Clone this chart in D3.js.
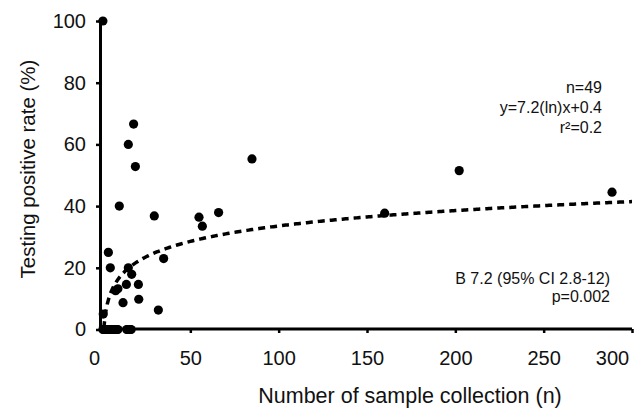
<!DOCTYPE html>
<html>
<head>
<meta charset="utf-8">
<script src="https://cdn.jsdelivr.net/npm/d3@7"></script>
<style>
  body { margin: 0; background: #fff; }
  text { font-family: "Liberation Sans", Arial, sans-serif; fill: #111; }
</style>
</head>
<body>
<script>
// sample counts (x) and positive rate % (y)
const sampleN = [0.5, 3.6, 4.7, 14.9, 16.8, 7.7, 9, 13.8, 20.6, 11.9, 20.8, 31.9, 34.9, 0.7,
  17.9, 14.9, 18.9, 9.8, 29.6, 54.9, 56.8, 66, 84.9, 160, 202.2, 288.7,
  0.5, 1, 1.5, 2, 2.5, 3, 3.5, 4, 4.5, 5, 5.5, 6, 6.5, 7, 7.5, 8, 8.5, 9,
  14, 14.5, 15.5, 16, 16.5]
const positiveRate = [100, 25, 20, 20, 17.9, 12.6, 13.2, 14.6, 14.6, 8.7, 9.8, 6.3, 23, 5,
  66.6, 60, 52.8, 40, 36.8, 36.4, 33.5, 37.9, 55.3, 37.7, 51.5, 44.5,
  0, 0, 0, 0, 0, 0, 0, 0, 0, 0, 0, 0, 0, 0, 0, 0, 0, 0,
  0, 0, 0, 0, 0]
const xTicks = [0, 50, 100, 150, 200, 250, 300]
const yTicks = [0, 20, 40, 60, 80, 100]
const fitSlope = 7.2
const fitIntercept = 0.4
const statsTop = ['n=49', 'y=7.2(ln)x+0.4', 'r\u00b2=0.2']
const statsBottom = ['B 7.2 (95% CI 2.8-12)', 'p=0.002']

const width = 636
const height = 414

const svg = d3.select('body').append('svg')
  .attr('width', width)
  .attr('height', height)

const x = d3.scaleLinear().domain([0, 300]).range([102, 632])
const y = d3.scaleLinear().domain([0, 100]).range([329.5, 21])

// axes
const yAxis = svg.append('g')
  .attr('transform', 'translate(100,0)')
  .call(d3.axisLeft(y).tickValues(yTicks).tickSize(4).tickSizeOuter(0).tickPadding(10))
yAxis.select('.domain').attr('stroke-width', 3).attr('stroke', '#000')
yAxis.selectAll('.tick line').attr('stroke-width', 2.5)
yAxis.selectAll('.tick text').attr('font-size', 20).attr('font-family', null)

const xAxis = svg.append('g')
  .attr('transform', 'translate(0,329)')
  .call(d3.axisBottom(x).tickValues(xTicks).tickSize(4).tickSizeOuter(0).tickPadding(18))
xAxis.select('.domain').attr('stroke-width', 3).attr('stroke', '#000')
  .attr('d', `M99,0H${x(300)}`)
xAxis.selectAll('.tick line').attr('stroke-width', 2.5)
xAxis.selectAll('.tick text').attr('font-size', 20).attr('font-family', null)
xAxis.selectAll('.tick text').filter(d => d === 300).attr('dx', -20)
xAxis.selectAll('.tick text').filter(d => d === 0).attr('dx', -8)

// log trend line
const fitX = d3.range(1, 300.5, 1)
svg.append('path')
  .datum(fitX)
  .attr('fill', 'none')
  .attr('stroke', '#000')
  .attr('stroke-width', 3.5)
  .attr('stroke-dasharray', '7,5')
  .attr('d', d3.line()
    .x(d => x(d))
    .y(d => y(fitSlope * Math.log(d) + fitIntercept)))

// points
svg.append('g')
  .selectAll('circle')
  .data(sampleN.map((n, i) => ({ n: n, r: positiveRate[i] })))
  .join('circle')
  .attr('cx', d => x(d.n))
  .attr('cy', d => y(d.r))
  .attr('r', 4.6)
  .attr('fill', '#000')

// annotations
svg.append('g')
  .selectAll('text')
  .data(statsTop)
  .join('text')
  .attr('x', 602)
  .attr('y', (d, i) => 93 + i * 20)
  .attr('text-anchor', 'end')
  .attr('font-size', 16)
  .text(d => d)

svg.append('g')
  .selectAll('text')
  .data(statsBottom)
  .join('text')
  .attr('x', 610)
  .attr('y', (d, i) => 284 + i * 18)
  .attr('text-anchor', 'end')
  .attr('font-size', 16)
  .text(d => d)

// axis titles
svg.append('text')
  .attr('x', 410)
  .attr('y', 403)
  .attr('text-anchor', 'middle')
  .attr('font-size', 21.5)
  .text('Number of sample collection (n)')

svg.append('text')
  .attr('transform', 'translate(35,169) rotate(-90)')
  .attr('text-anchor', 'middle')
  .attr('font-size', 20.5)
  .text('Testing positive rate (%)')
</script>
</body>
</html>
